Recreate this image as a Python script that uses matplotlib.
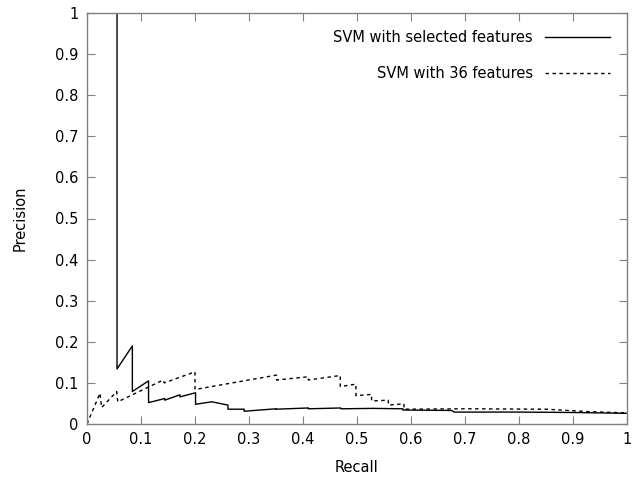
import matplotlib
matplotlib.use("Agg")
import matplotlib.pyplot as plt
import numpy as np

# precision/recall curves
recall_sel = [0.026, 0.0556, 0.0556, 0.084, 0.084, 0.114, 0.114, 0.144, 0.144,
              0.172, 0.172, 0.201, 0.201, 0.231, 0.261, 0.261, 0.291, 0.291,
              0.35, 0.35, 0.41, 0.41, 0.47, 0.47, 0.53, 0.585, 0.585, 0.675,
              0.68, 0.8, 0.9, 1.0]
precision_sel = [1.0, 1.0, 0.134, 0.19, 0.079, 0.105, 0.052, 0.062, 0.058,
                 0.071, 0.066, 0.076, 0.048, 0.054, 0.046, 0.036, 0.036, 0.031,
                 0.037, 0.036, 0.039, 0.037, 0.039, 0.037, 0.038, 0.037, 0.034, 0.033,
                 0.029, 0.029, 0.028, 0.026]

recall_all = [0.0, 0.024, 0.027, 0.055, 0.057, 0.141, 0.143, 0.2, 0.2, 0.351,
              0.351, 0.41, 0.41, 0.469, 0.469, 0.498, 0.498, 0.527, 0.527,
              0.558, 0.558, 0.587, 0.587, 0.7, 0.85, 0.93, 1.0]
precision_all = [0.0, 0.075, 0.04, 0.079, 0.054, 0.107, 0.1, 0.127, 0.084, 0.119,
                 0.107, 0.115, 0.107, 0.118, 0.091, 0.097, 0.069, 0.072, 0.056,
                 0.058, 0.046, 0.049, 0.036, 0.037, 0.036, 0.03, 0.027]

ticks = np.round(np.arange(0, 1.01, 0.1), 1)
tick_labels = ["0", "0.1", "0.2", "0.3", "0.4", "0.5", "0.6", "0.7", "0.8", "0.9", "1"]

plt.rcParams['font.family'] = ['DejaVu Sans']
fig = plt.figure(figsize=(6.41, 4.79), dpi=100)
ax = fig.add_axes([87 / 641, 55 / 479, 540 / 641, 411 / 479])

ax.plot(recall_sel, precision_sel, color='black', lw=1.0,
        label='SVM with selected features')
ax.plot(recall_all, precision_all, color='black', lw=1.0, linestyle=(0, (2.5, 2.5)),
        label='SVM with 36 features')

ax.set_xlim(0, 1)
ax.set_ylim(0, 1)
ax.set_xticks(ticks)
ax.set_xticklabels(tick_labels)
ax.set_yticks(ticks)
ax.set_yticklabels(tick_labels)
ax.tick_params(direction='in', top=True, right=True, length=6, width=0.8,
               color='#808080', labelsize=10.5, pad=6)
for s in ax.spines.values():
    s.set_color('#808080')
    s.set_linewidth(1.0)

ax.set_xlabel('Recall', fontsize=10.5, labelpad=9)
ax.set_ylabel('Precision', fontsize=10.5, labelpad=20)

leg = ax.legend(loc='upper right', frameon=False, fontsize=10.5, markerfirst=False,
                handlelength=4.5, labelspacing=1.45, borderaxespad=0.75)
for t in leg.get_texts():
    t.set_ha('right')

fig.savefig('out.png', dpi=100)
